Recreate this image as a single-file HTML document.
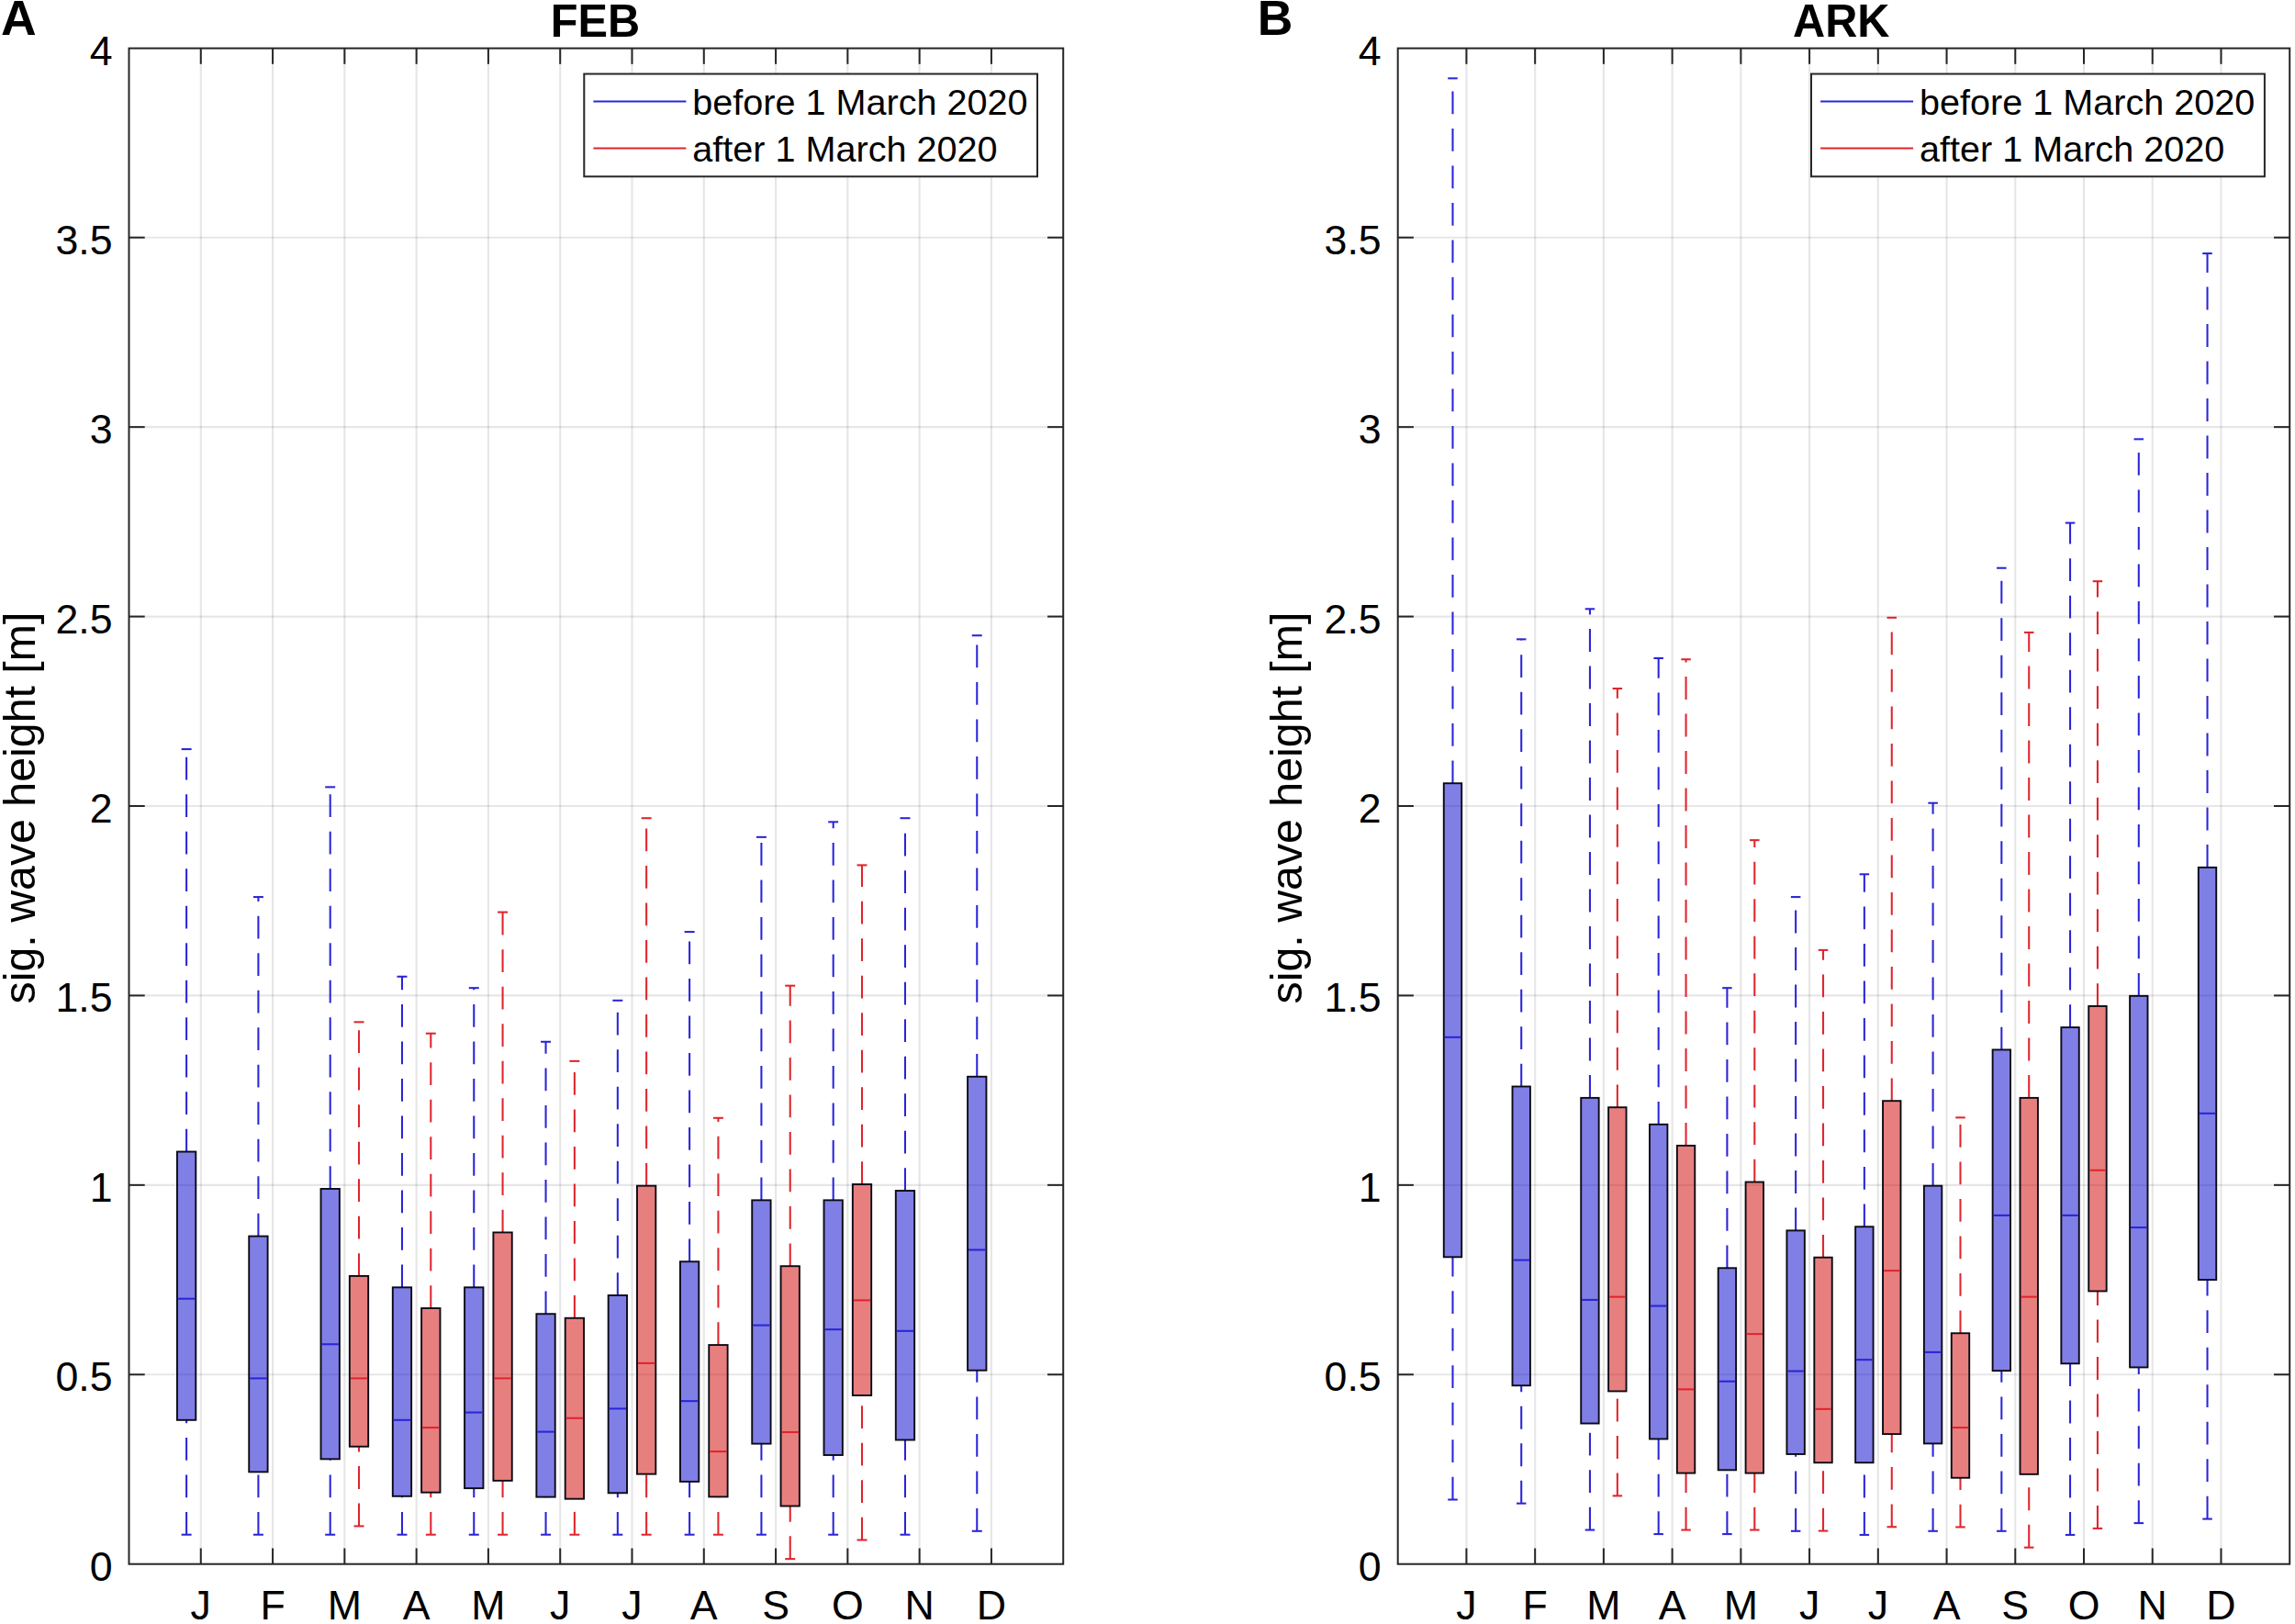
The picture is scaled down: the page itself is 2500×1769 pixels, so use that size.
<!DOCTYPE html>
<html><head><meta charset="utf-8"><title>sig. wave height</title>
<style>
html,body{margin:0;padding:0;background:#fff;}
svg{display:block;}
text{font-family:"Liberation Sans",sans-serif;fill:#000;}
.t{font-size:44.7px;}
.yl{font-size:48.3px;}
.tt{font-size:48.7px;font-weight:bold;}
.pl{font-size:53.5px;font-weight:bold;}
.lg{font-size:39.6px;}
</style></head><body>
<svg width="2500" height="1769" viewBox="0 0 2500 1769">
<rect x="0" y="0" width="2500" height="1769" fill="#fff"/>
<g>
<line x1="218.78" y1="52.6" x2="218.78" y2="1703.7" stroke="rgba(38,38,38,0.115)" stroke-width="2.1"/>
<line x1="297.07" y1="52.6" x2="297.07" y2="1703.7" stroke="rgba(38,38,38,0.115)" stroke-width="2.1"/>
<line x1="375.35" y1="52.6" x2="375.35" y2="1703.7" stroke="rgba(38,38,38,0.115)" stroke-width="2.1"/>
<line x1="453.64" y1="52.6" x2="453.64" y2="1703.7" stroke="rgba(38,38,38,0.115)" stroke-width="2.1"/>
<line x1="531.92" y1="52.6" x2="531.92" y2="1703.7" stroke="rgba(38,38,38,0.115)" stroke-width="2.1"/>
<line x1="610.21" y1="52.6" x2="610.21" y2="1703.7" stroke="rgba(38,38,38,0.115)" stroke-width="2.1"/>
<line x1="688.49" y1="52.6" x2="688.49" y2="1703.7" stroke="rgba(38,38,38,0.115)" stroke-width="2.1"/>
<line x1="766.78" y1="52.6" x2="766.78" y2="1703.7" stroke="rgba(38,38,38,0.115)" stroke-width="2.1"/>
<line x1="845.06" y1="52.6" x2="845.06" y2="1703.7" stroke="rgba(38,38,38,0.115)" stroke-width="2.1"/>
<line x1="923.35" y1="52.6" x2="923.35" y2="1703.7" stroke="rgba(38,38,38,0.115)" stroke-width="2.1"/>
<line x1="1001.63" y1="52.6" x2="1001.63" y2="1703.7" stroke="rgba(38,38,38,0.115)" stroke-width="2.1"/>
<line x1="1079.92" y1="52.6" x2="1079.92" y2="1703.7" stroke="rgba(38,38,38,0.115)" stroke-width="2.1"/>
<line x1="140.5" y1="1497.28" x2="1158.2" y2="1497.28" stroke="rgba(38,38,38,0.115)" stroke-width="2.1"/>
<line x1="140.5" y1="1290.85" x2="1158.2" y2="1290.85" stroke="rgba(38,38,38,0.115)" stroke-width="2.1"/>
<line x1="140.5" y1="1084.42" x2="1158.2" y2="1084.42" stroke="rgba(38,38,38,0.115)" stroke-width="2.1"/>
<line x1="140.5" y1="878" x2="1158.2" y2="878" stroke="rgba(38,38,38,0.115)" stroke-width="2.1"/>
<line x1="140.5" y1="671.58" x2="1158.2" y2="671.58" stroke="rgba(38,38,38,0.115)" stroke-width="2.1"/>
<line x1="140.5" y1="465.15" x2="1158.2" y2="465.15" stroke="rgba(38,38,38,0.115)" stroke-width="2.1"/>
<line x1="140.5" y1="258.72" x2="1158.2" y2="258.72" stroke="rgba(38,38,38,0.115)" stroke-width="2.1"/>
<line x1="203.13" y1="1254.52" x2="203.13" y2="816.07" stroke="#2a24d8" stroke-width="2.05" stroke-dasharray="24.8 15.7"/>
<line x1="203.13" y1="1671.7" x2="203.13" y2="1546.82" stroke="#2a24d8" stroke-width="2.05" stroke-dasharray="24.8 15.7"/>
<line x1="197.64" y1="816.07" x2="208.62" y2="816.07" stroke="#2a24d8" stroke-width="2.05"/>
<line x1="197.64" y1="1671.7" x2="208.62" y2="1671.7" stroke="#2a24d8" stroke-width="2.05"/>
<rect x="192.95" y="1254.52" width="20.35" height="292.3" fill="rgba(0,0,205,0.5)" stroke="#0a0a14" stroke-width="1.9"/>
<line x1="193.95" y1="1414.7" x2="212.3" y2="1414.7" stroke="#2a24d8" stroke-width="2.05"/>
<line x1="281.41" y1="1346.58" x2="281.41" y2="977.08" stroke="#2a24d8" stroke-width="2.05" stroke-dasharray="24.8 15.7"/>
<line x1="281.41" y1="1671.7" x2="281.41" y2="1603.38" stroke="#2a24d8" stroke-width="2.05" stroke-dasharray="24.8 15.7"/>
<line x1="275.92" y1="977.08" x2="286.9" y2="977.08" stroke="#2a24d8" stroke-width="2.05"/>
<line x1="275.92" y1="1671.7" x2="286.9" y2="1671.7" stroke="#2a24d8" stroke-width="2.05"/>
<rect x="271.24" y="1346.58" width="20.35" height="256.79" fill="rgba(0,0,205,0.5)" stroke="#0a0a14" stroke-width="1.9"/>
<line x1="272.24" y1="1501.4" x2="290.59" y2="1501.4" stroke="#2a24d8" stroke-width="2.05"/>
<line x1="359.7" y1="1294.98" x2="359.7" y2="857.36" stroke="#2a24d8" stroke-width="2.05" stroke-dasharray="24.8 15.7"/>
<line x1="359.7" y1="1671.7" x2="359.7" y2="1589.34" stroke="#2a24d8" stroke-width="2.05" stroke-dasharray="24.8 15.7"/>
<line x1="354.21" y1="857.36" x2="365.19" y2="857.36" stroke="#2a24d8" stroke-width="2.05"/>
<line x1="354.21" y1="1671.7" x2="365.19" y2="1671.7" stroke="#2a24d8" stroke-width="2.05"/>
<rect x="349.52" y="1294.98" width="20.35" height="294.36" fill="rgba(0,0,205,0.5)" stroke="#0a0a14" stroke-width="1.9"/>
<line x1="350.52" y1="1464.25" x2="368.87" y2="1464.25" stroke="#2a24d8" stroke-width="2.05"/>
<line x1="437.98" y1="1402.32" x2="437.98" y2="1063.78" stroke="#2a24d8" stroke-width="2.05" stroke-dasharray="24.8 15.7"/>
<line x1="437.98" y1="1671.7" x2="437.98" y2="1629.8" stroke="#2a24d8" stroke-width="2.05" stroke-dasharray="24.8 15.7"/>
<line x1="432.49" y1="1063.78" x2="443.47" y2="1063.78" stroke="#2a24d8" stroke-width="2.05"/>
<line x1="432.49" y1="1671.7" x2="443.47" y2="1671.7" stroke="#2a24d8" stroke-width="2.05"/>
<rect x="427.8" y="1402.32" width="20.35" height="227.48" fill="rgba(0,0,205,0.5)" stroke="#0a0a14" stroke-width="1.9"/>
<line x1="428.8" y1="1546.82" x2="447.16" y2="1546.82" stroke="#2a24d8" stroke-width="2.05"/>
<line x1="516.27" y1="1402.32" x2="516.27" y2="1076.17" stroke="#2a24d8" stroke-width="2.05" stroke-dasharray="24.8 15.7"/>
<line x1="516.27" y1="1671.7" x2="516.27" y2="1621.13" stroke="#2a24d8" stroke-width="2.05" stroke-dasharray="24.8 15.7"/>
<line x1="510.78" y1="1076.17" x2="521.75" y2="1076.17" stroke="#2a24d8" stroke-width="2.05"/>
<line x1="510.78" y1="1671.7" x2="521.75" y2="1671.7" stroke="#2a24d8" stroke-width="2.05"/>
<rect x="506.09" y="1402.32" width="20.35" height="218.81" fill="rgba(0,0,205,0.5)" stroke="#0a0a14" stroke-width="1.9"/>
<line x1="507.09" y1="1538.56" x2="525.44" y2="1538.56" stroke="#2a24d8" stroke-width="2.05"/>
<line x1="594.55" y1="1431.22" x2="594.55" y2="1134.79" stroke="#2a24d8" stroke-width="2.05" stroke-dasharray="24.8 15.7"/>
<line x1="594.55" y1="1671.7" x2="594.55" y2="1630.63" stroke="#2a24d8" stroke-width="2.05" stroke-dasharray="24.8 15.7"/>
<line x1="589.06" y1="1134.79" x2="600.04" y2="1134.79" stroke="#2a24d8" stroke-width="2.05"/>
<line x1="589.06" y1="1671.7" x2="600.04" y2="1671.7" stroke="#2a24d8" stroke-width="2.05"/>
<rect x="584.37" y="1431.22" width="20.35" height="199.41" fill="rgba(0,0,205,0.5)" stroke="#0a0a14" stroke-width="1.9"/>
<line x1="585.37" y1="1559.62" x2="603.73" y2="1559.62" stroke="#2a24d8" stroke-width="2.05"/>
<line x1="672.84" y1="1410.99" x2="672.84" y2="1089.79" stroke="#2a24d8" stroke-width="2.05" stroke-dasharray="24.8 15.7"/>
<line x1="672.84" y1="1671.7" x2="672.84" y2="1626.29" stroke="#2a24d8" stroke-width="2.05" stroke-dasharray="24.8 15.7"/>
<line x1="667.35" y1="1089.79" x2="678.32" y2="1089.79" stroke="#2a24d8" stroke-width="2.05"/>
<line x1="667.35" y1="1671.7" x2="678.32" y2="1671.7" stroke="#2a24d8" stroke-width="2.05"/>
<rect x="662.66" y="1410.99" width="20.35" height="215.3" fill="rgba(0,0,205,0.5)" stroke="#0a0a14" stroke-width="1.9"/>
<line x1="663.66" y1="1534.43" x2="682.01" y2="1534.43" stroke="#2a24d8" stroke-width="2.05"/>
<line x1="751.12" y1="1374.25" x2="751.12" y2="1015.07" stroke="#2a24d8" stroke-width="2.05" stroke-dasharray="24.8 15.7"/>
<line x1="751.12" y1="1671.7" x2="751.12" y2="1613.91" stroke="#2a24d8" stroke-width="2.05" stroke-dasharray="24.8 15.7"/>
<line x1="745.63" y1="1015.07" x2="756.61" y2="1015.07" stroke="#2a24d8" stroke-width="2.05"/>
<line x1="745.63" y1="1671.7" x2="756.61" y2="1671.7" stroke="#2a24d8" stroke-width="2.05"/>
<rect x="740.94" y="1374.25" width="20.35" height="239.66" fill="rgba(0,0,205,0.5)" stroke="#0a0a14" stroke-width="1.9"/>
<line x1="741.94" y1="1526.17" x2="760.3" y2="1526.17" stroke="#2a24d8" stroke-width="2.05"/>
<line x1="829.4" y1="1307.36" x2="829.4" y2="911.85" stroke="#2a24d8" stroke-width="2.05" stroke-dasharray="24.8 15.7"/>
<line x1="829.4" y1="1671.7" x2="829.4" y2="1572.62" stroke="#2a24d8" stroke-width="2.05" stroke-dasharray="24.8 15.7"/>
<line x1="823.92" y1="911.85" x2="834.89" y2="911.85" stroke="#2a24d8" stroke-width="2.05"/>
<line x1="823.92" y1="1671.7" x2="834.89" y2="1671.7" stroke="#2a24d8" stroke-width="2.05"/>
<rect x="819.23" y="1307.36" width="20.35" height="265.26" fill="rgba(0,0,205,0.5)" stroke="#0a0a14" stroke-width="1.9"/>
<line x1="820.23" y1="1443.6" x2="838.58" y2="1443.6" stroke="#2a24d8" stroke-width="2.05"/>
<line x1="907.69" y1="1307.36" x2="907.69" y2="895.34" stroke="#2a24d8" stroke-width="2.05" stroke-dasharray="24.8 15.7"/>
<line x1="907.69" y1="1671.7" x2="907.69" y2="1585.01" stroke="#2a24d8" stroke-width="2.05" stroke-dasharray="24.8 15.7"/>
<line x1="902.2" y1="895.34" x2="913.18" y2="895.34" stroke="#2a24d8" stroke-width="2.05"/>
<line x1="902.2" y1="1671.7" x2="913.18" y2="1671.7" stroke="#2a24d8" stroke-width="2.05"/>
<rect x="897.51" y="1307.36" width="20.35" height="277.64" fill="rgba(0,0,205,0.5)" stroke="#0a0a14" stroke-width="1.9"/>
<line x1="898.51" y1="1448.15" x2="916.87" y2="1448.15" stroke="#2a24d8" stroke-width="2.05"/>
<line x1="985.97" y1="1297.04" x2="985.97" y2="891.21" stroke="#2a24d8" stroke-width="2.05" stroke-dasharray="24.8 15.7"/>
<line x1="985.97" y1="1671.7" x2="985.97" y2="1568.49" stroke="#2a24d8" stroke-width="2.05" stroke-dasharray="24.8 15.7"/>
<line x1="980.49" y1="891.21" x2="991.46" y2="891.21" stroke="#2a24d8" stroke-width="2.05"/>
<line x1="980.49" y1="1671.7" x2="991.46" y2="1671.7" stroke="#2a24d8" stroke-width="2.05"/>
<rect x="975.8" y="1297.04" width="20.35" height="271.45" fill="rgba(0,0,205,0.5)" stroke="#0a0a14" stroke-width="1.9"/>
<line x1="976.8" y1="1449.8" x2="995.15" y2="1449.8" stroke="#2a24d8" stroke-width="2.05"/>
<line x1="1064.26" y1="1172.77" x2="1064.26" y2="692.22" stroke="#2a24d8" stroke-width="2.05" stroke-dasharray="24.8 15.7"/>
<line x1="1064.26" y1="1667.78" x2="1064.26" y2="1492.73" stroke="#2a24d8" stroke-width="2.05" stroke-dasharray="24.8 15.7"/>
<line x1="1058.77" y1="692.22" x2="1069.75" y2="692.22" stroke="#2a24d8" stroke-width="2.05"/>
<line x1="1058.77" y1="1667.78" x2="1069.75" y2="1667.78" stroke="#2a24d8" stroke-width="2.05"/>
<rect x="1054.08" y="1172.77" width="20.35" height="319.96" fill="rgba(0,0,205,0.5)" stroke="#0a0a14" stroke-width="1.9"/>
<line x1="1055.08" y1="1361.45" x2="1073.44" y2="1361.45" stroke="#2a24d8" stroke-width="2.05"/>
<line x1="391.01" y1="1389.93" x2="391.01" y2="1113.32" stroke="#e0242c" stroke-width="2.05" stroke-dasharray="24.8 15.7"/>
<line x1="391.01" y1="1662.41" x2="391.01" y2="1575.72" stroke="#e0242c" stroke-width="2.05" stroke-dasharray="24.8 15.7"/>
<line x1="385.52" y1="1113.32" x2="396.5" y2="1113.32" stroke="#e0242c" stroke-width="2.05"/>
<line x1="385.52" y1="1662.41" x2="396.5" y2="1662.41" stroke="#e0242c" stroke-width="2.05"/>
<rect x="380.83" y="1389.93" width="20.35" height="185.78" fill="rgba(210,0,0,0.5)" stroke="#0a0a14" stroke-width="1.9"/>
<line x1="381.83" y1="1501.4" x2="400.19" y2="1501.4" stroke="#e0242c" stroke-width="2.05"/>
<line x1="469.3" y1="1425.03" x2="469.3" y2="1125.71" stroke="#e0242c" stroke-width="2.05" stroke-dasharray="24.8 15.7"/>
<line x1="469.3" y1="1671.7" x2="469.3" y2="1625.67" stroke="#e0242c" stroke-width="2.05" stroke-dasharray="24.8 15.7"/>
<line x1="463.81" y1="1125.71" x2="474.78" y2="1125.71" stroke="#e0242c" stroke-width="2.05"/>
<line x1="463.81" y1="1671.7" x2="474.78" y2="1671.7" stroke="#e0242c" stroke-width="2.05"/>
<rect x="459.12" y="1425.03" width="20.35" height="200.65" fill="rgba(210,0,0,0.5)" stroke="#0a0a14" stroke-width="1.9"/>
<line x1="460.12" y1="1555.07" x2="478.47" y2="1555.07" stroke="#e0242c" stroke-width="2.05"/>
<line x1="547.58" y1="1342.46" x2="547.58" y2="993.6" stroke="#e0242c" stroke-width="2.05" stroke-dasharray="24.8 15.7"/>
<line x1="547.58" y1="1671.7" x2="547.58" y2="1612.87" stroke="#e0242c" stroke-width="2.05" stroke-dasharray="24.8 15.7"/>
<line x1="542.09" y1="993.6" x2="553.07" y2="993.6" stroke="#e0242c" stroke-width="2.05"/>
<line x1="542.09" y1="1671.7" x2="553.07" y2="1671.7" stroke="#e0242c" stroke-width="2.05"/>
<rect x="537.4" y="1342.46" width="20.35" height="270.42" fill="rgba(210,0,0,0.5)" stroke="#0a0a14" stroke-width="1.9"/>
<line x1="538.4" y1="1501.4" x2="556.76" y2="1501.4" stroke="#e0242c" stroke-width="2.05"/>
<line x1="625.86" y1="1435.76" x2="625.86" y2="1155.85" stroke="#e0242c" stroke-width="2.05" stroke-dasharray="24.8 15.7"/>
<line x1="625.86" y1="1671.7" x2="625.86" y2="1632.69" stroke="#e0242c" stroke-width="2.05" stroke-dasharray="24.8 15.7"/>
<line x1="620.38" y1="1155.85" x2="631.35" y2="1155.85" stroke="#e0242c" stroke-width="2.05"/>
<line x1="620.38" y1="1671.7" x2="631.35" y2="1671.7" stroke="#e0242c" stroke-width="2.05"/>
<rect x="615.69" y="1435.76" width="20.35" height="196.93" fill="rgba(210,0,0,0.5)" stroke="#0a0a14" stroke-width="1.9"/>
<line x1="616.69" y1="1544.75" x2="635.04" y2="1544.75" stroke="#e0242c" stroke-width="2.05"/>
<line x1="704.15" y1="1291.68" x2="704.15" y2="891.21" stroke="#e0242c" stroke-width="2.05" stroke-dasharray="24.8 15.7"/>
<line x1="704.15" y1="1671.7" x2="704.15" y2="1605.65" stroke="#e0242c" stroke-width="2.05" stroke-dasharray="24.8 15.7"/>
<line x1="698.66" y1="891.21" x2="709.64" y2="891.21" stroke="#e0242c" stroke-width="2.05"/>
<line x1="698.66" y1="1671.7" x2="709.64" y2="1671.7" stroke="#e0242c" stroke-width="2.05"/>
<rect x="693.97" y="1291.68" width="20.35" height="313.97" fill="rgba(210,0,0,0.5)" stroke="#0a0a14" stroke-width="1.9"/>
<line x1="694.97" y1="1484.89" x2="713.33" y2="1484.89" stroke="#e0242c" stroke-width="2.05"/>
<line x1="782.43" y1="1465.07" x2="782.43" y2="1217.78" stroke="#e0242c" stroke-width="2.05" stroke-dasharray="24.8 15.7"/>
<line x1="782.43" y1="1671.7" x2="782.43" y2="1630.42" stroke="#e0242c" stroke-width="2.05" stroke-dasharray="24.8 15.7"/>
<line x1="776.95" y1="1217.78" x2="787.92" y2="1217.78" stroke="#e0242c" stroke-width="2.05"/>
<line x1="776.95" y1="1671.7" x2="787.92" y2="1671.7" stroke="#e0242c" stroke-width="2.05"/>
<rect x="772.26" y="1465.07" width="20.35" height="165.35" fill="rgba(210,0,0,0.5)" stroke="#0a0a14" stroke-width="1.9"/>
<line x1="773.26" y1="1581.08" x2="791.61" y2="1581.08" stroke="#e0242c" stroke-width="2.05"/>
<line x1="860.72" y1="1379.2" x2="860.72" y2="1073.69" stroke="#e0242c" stroke-width="2.05" stroke-dasharray="24.8 15.7"/>
<line x1="860.72" y1="1698.13" x2="860.72" y2="1640.53" stroke="#e0242c" stroke-width="2.05" stroke-dasharray="24.8 15.7"/>
<line x1="855.23" y1="1073.69" x2="866.21" y2="1073.69" stroke="#e0242c" stroke-width="2.05"/>
<line x1="855.23" y1="1698.13" x2="866.21" y2="1698.13" stroke="#e0242c" stroke-width="2.05"/>
<rect x="850.54" y="1379.2" width="20.35" height="261.33" fill="rgba(210,0,0,0.5)" stroke="#0a0a14" stroke-width="1.9"/>
<line x1="851.54" y1="1560.03" x2="869.9" y2="1560.03" stroke="#e0242c" stroke-width="2.05"/>
<line x1="939" y1="1290.02" x2="939" y2="942.4" stroke="#e0242c" stroke-width="2.05" stroke-dasharray="24.8 15.7"/>
<line x1="939" y1="1677.48" x2="939" y2="1519.98" stroke="#e0242c" stroke-width="2.05" stroke-dasharray="24.8 15.7"/>
<line x1="933.51" y1="942.4" x2="944.49" y2="942.4" stroke="#e0242c" stroke-width="2.05"/>
<line x1="933.51" y1="1677.48" x2="944.49" y2="1677.48" stroke="#e0242c" stroke-width="2.05"/>
<rect x="928.83" y="1290.02" width="20.35" height="229.96" fill="rgba(210,0,0,0.5)" stroke="#0a0a14" stroke-width="1.9"/>
<line x1="929.83" y1="1416.36" x2="948.18" y2="1416.36" stroke="#e0242c" stroke-width="2.05"/>
<rect x="140.5" y="52.6" width="1017.7" height="1651.1" fill="none" stroke="#262626" stroke-width="2"/>
<line x1="218.78" y1="1703.7" x2="218.78" y2="1686.5" stroke="#262626" stroke-width="2"/>
<line x1="218.78" y1="52.6" x2="218.78" y2="69.8" stroke="#262626" stroke-width="2"/>
<text class="t" x="218.78" y="1764.4" text-anchor="middle">J</text>
<line x1="297.07" y1="1703.7" x2="297.07" y2="1686.5" stroke="#262626" stroke-width="2"/>
<line x1="297.07" y1="52.6" x2="297.07" y2="69.8" stroke="#262626" stroke-width="2"/>
<text class="t" x="297.07" y="1764.4" text-anchor="middle">F</text>
<line x1="375.35" y1="1703.7" x2="375.35" y2="1686.5" stroke="#262626" stroke-width="2"/>
<line x1="375.35" y1="52.6" x2="375.35" y2="69.8" stroke="#262626" stroke-width="2"/>
<text class="t" x="375.35" y="1764.4" text-anchor="middle">M</text>
<line x1="453.64" y1="1703.7" x2="453.64" y2="1686.5" stroke="#262626" stroke-width="2"/>
<line x1="453.64" y1="52.6" x2="453.64" y2="69.8" stroke="#262626" stroke-width="2"/>
<text class="t" x="453.64" y="1764.4" text-anchor="middle">A</text>
<line x1="531.92" y1="1703.7" x2="531.92" y2="1686.5" stroke="#262626" stroke-width="2"/>
<line x1="531.92" y1="52.6" x2="531.92" y2="69.8" stroke="#262626" stroke-width="2"/>
<text class="t" x="531.92" y="1764.4" text-anchor="middle">M</text>
<line x1="610.21" y1="1703.7" x2="610.21" y2="1686.5" stroke="#262626" stroke-width="2"/>
<line x1="610.21" y1="52.6" x2="610.21" y2="69.8" stroke="#262626" stroke-width="2"/>
<text class="t" x="610.21" y="1764.4" text-anchor="middle">J</text>
<line x1="688.49" y1="1703.7" x2="688.49" y2="1686.5" stroke="#262626" stroke-width="2"/>
<line x1="688.49" y1="52.6" x2="688.49" y2="69.8" stroke="#262626" stroke-width="2"/>
<text class="t" x="688.49" y="1764.4" text-anchor="middle">J</text>
<line x1="766.78" y1="1703.7" x2="766.78" y2="1686.5" stroke="#262626" stroke-width="2"/>
<line x1="766.78" y1="52.6" x2="766.78" y2="69.8" stroke="#262626" stroke-width="2"/>
<text class="t" x="766.78" y="1764.4" text-anchor="middle">A</text>
<line x1="845.06" y1="1703.7" x2="845.06" y2="1686.5" stroke="#262626" stroke-width="2"/>
<line x1="845.06" y1="52.6" x2="845.06" y2="69.8" stroke="#262626" stroke-width="2"/>
<text class="t" x="845.06" y="1764.4" text-anchor="middle">S</text>
<line x1="923.35" y1="1703.7" x2="923.35" y2="1686.5" stroke="#262626" stroke-width="2"/>
<line x1="923.35" y1="52.6" x2="923.35" y2="69.8" stroke="#262626" stroke-width="2"/>
<text class="t" x="923.35" y="1764.4" text-anchor="middle">O</text>
<line x1="1001.63" y1="1703.7" x2="1001.63" y2="1686.5" stroke="#262626" stroke-width="2"/>
<line x1="1001.63" y1="52.6" x2="1001.63" y2="69.8" stroke="#262626" stroke-width="2"/>
<text class="t" x="1001.63" y="1764.4" text-anchor="middle">N</text>
<line x1="1079.92" y1="1703.7" x2="1079.92" y2="1686.5" stroke="#262626" stroke-width="2"/>
<line x1="1079.92" y1="52.6" x2="1079.92" y2="69.8" stroke="#262626" stroke-width="2"/>
<text class="t" x="1079.92" y="1764.4" text-anchor="middle">D</text>
<text class="t" x="122.5" y="1721.7" text-anchor="end">0</text>
<line x1="140.5" y1="1497.28" x2="157.7" y2="1497.28" stroke="#262626" stroke-width="2"/>
<line x1="1158.2" y1="1497.28" x2="1141" y2="1497.28" stroke="#262626" stroke-width="2"/>
<text class="t" x="122.5" y="1515.28" text-anchor="end">0.5</text>
<line x1="140.5" y1="1290.85" x2="157.7" y2="1290.85" stroke="#262626" stroke-width="2"/>
<line x1="1158.2" y1="1290.85" x2="1141" y2="1290.85" stroke="#262626" stroke-width="2"/>
<text class="t" x="122.5" y="1308.85" text-anchor="end">1</text>
<line x1="140.5" y1="1084.42" x2="157.7" y2="1084.42" stroke="#262626" stroke-width="2"/>
<line x1="1158.2" y1="1084.42" x2="1141" y2="1084.42" stroke="#262626" stroke-width="2"/>
<text class="t" x="122.5" y="1102.42" text-anchor="end">1.5</text>
<line x1="140.5" y1="878" x2="157.7" y2="878" stroke="#262626" stroke-width="2"/>
<line x1="1158.2" y1="878" x2="1141" y2="878" stroke="#262626" stroke-width="2"/>
<text class="t" x="122.5" y="896" text-anchor="end">2</text>
<line x1="140.5" y1="671.58" x2="157.7" y2="671.58" stroke="#262626" stroke-width="2"/>
<line x1="1158.2" y1="671.58" x2="1141" y2="671.58" stroke="#262626" stroke-width="2"/>
<text class="t" x="122.5" y="689.58" text-anchor="end">2.5</text>
<line x1="140.5" y1="465.15" x2="157.7" y2="465.15" stroke="#262626" stroke-width="2"/>
<line x1="1158.2" y1="465.15" x2="1141" y2="465.15" stroke="#262626" stroke-width="2"/>
<text class="t" x="122.5" y="483.15" text-anchor="end">3</text>
<line x1="140.5" y1="258.72" x2="157.7" y2="258.72" stroke="#262626" stroke-width="2"/>
<line x1="1158.2" y1="258.72" x2="1141" y2="258.72" stroke="#262626" stroke-width="2"/>
<text class="t" x="122.5" y="276.72" text-anchor="end">3.5</text>
<text class="t" x="122.5" y="70.6" text-anchor="end">4</text>
<text class="tt" transform="translate(648.35,40.2) scale(1,1.04)" text-anchor="middle">FEB</text>
<text class="pl" x="0.9" y="37.5">A</text>
<text class="yl" transform="translate(38.3,880) rotate(-90)" text-anchor="middle">sig. wave height [m]</text>
<rect x="636.3" y="80.5" width="493.7" height="111.8" fill="#fff" stroke="#262626" stroke-width="2"/>
<line x1="646.4" y1="110.5" x2="747.4" y2="110.5" stroke="#2a24d8" stroke-width="2.05"/>
<line x1="646.4" y1="161.5" x2="747.4" y2="161.5" stroke="#e0242c" stroke-width="2.05"/>
<text class="lg" x="754.3" y="125.4">before 1 March 2020</text>
<text class="lg" x="754.3" y="176.2">after 1 March 2020</text>
</g>
<g>
<line x1="1597.43" y1="52.6" x2="1597.43" y2="1703.7" stroke="rgba(38,38,38,0.115)" stroke-width="2.1"/>
<line x1="1672.16" y1="52.6" x2="1672.16" y2="1703.7" stroke="rgba(38,38,38,0.115)" stroke-width="2.1"/>
<line x1="1746.89" y1="52.6" x2="1746.89" y2="1703.7" stroke="rgba(38,38,38,0.115)" stroke-width="2.1"/>
<line x1="1821.62" y1="52.6" x2="1821.62" y2="1703.7" stroke="rgba(38,38,38,0.115)" stroke-width="2.1"/>
<line x1="1896.35" y1="52.6" x2="1896.35" y2="1703.7" stroke="rgba(38,38,38,0.115)" stroke-width="2.1"/>
<line x1="1971.08" y1="52.6" x2="1971.08" y2="1703.7" stroke="rgba(38,38,38,0.115)" stroke-width="2.1"/>
<line x1="2045.82" y1="52.6" x2="2045.82" y2="1703.7" stroke="rgba(38,38,38,0.115)" stroke-width="2.1"/>
<line x1="2120.55" y1="52.6" x2="2120.55" y2="1703.7" stroke="rgba(38,38,38,0.115)" stroke-width="2.1"/>
<line x1="2195.28" y1="52.6" x2="2195.28" y2="1703.7" stroke="rgba(38,38,38,0.115)" stroke-width="2.1"/>
<line x1="2270.01" y1="52.6" x2="2270.01" y2="1703.7" stroke="rgba(38,38,38,0.115)" stroke-width="2.1"/>
<line x1="2344.74" y1="52.6" x2="2344.74" y2="1703.7" stroke="rgba(38,38,38,0.115)" stroke-width="2.1"/>
<line x1="2419.47" y1="52.6" x2="2419.47" y2="1703.7" stroke="rgba(38,38,38,0.115)" stroke-width="2.1"/>
<line x1="1522.7" y1="1497.28" x2="2494.2" y2="1497.28" stroke="rgba(38,38,38,0.115)" stroke-width="2.1"/>
<line x1="1522.7" y1="1290.85" x2="2494.2" y2="1290.85" stroke="rgba(38,38,38,0.115)" stroke-width="2.1"/>
<line x1="1522.7" y1="1084.42" x2="2494.2" y2="1084.42" stroke="rgba(38,38,38,0.115)" stroke-width="2.1"/>
<line x1="1522.7" y1="878" x2="2494.2" y2="878" stroke="rgba(38,38,38,0.115)" stroke-width="2.1"/>
<line x1="1522.7" y1="671.58" x2="2494.2" y2="671.58" stroke="rgba(38,38,38,0.115)" stroke-width="2.1"/>
<line x1="1522.7" y1="465.15" x2="2494.2" y2="465.15" stroke="rgba(38,38,38,0.115)" stroke-width="2.1"/>
<line x1="1522.7" y1="258.72" x2="2494.2" y2="258.72" stroke="rgba(38,38,38,0.115)" stroke-width="2.1"/>
<line x1="1582.48" y1="853.23" x2="1582.48" y2="85.33" stroke="#2a24d8" stroke-width="2.05" stroke-dasharray="24.8 15.7"/>
<line x1="1582.48" y1="1633.52" x2="1582.48" y2="1369.29" stroke="#2a24d8" stroke-width="2.05" stroke-dasharray="24.8 15.7"/>
<line x1="1577.23" y1="85.33" x2="1587.74" y2="85.33" stroke="#2a24d8" stroke-width="2.05"/>
<line x1="1577.23" y1="1633.52" x2="1587.74" y2="1633.52" stroke="#2a24d8" stroke-width="2.05"/>
<rect x="1572.77" y="853.23" width="19.43" height="516.06" fill="rgba(0,0,205,0.5)" stroke="#0a0a14" stroke-width="1.9"/>
<line x1="1573.77" y1="1129.84" x2="1591.2" y2="1129.84" stroke="#2a24d8" stroke-width="2.05"/>
<line x1="1657.22" y1="1183.51" x2="1657.22" y2="696.35" stroke="#2a24d8" stroke-width="2.05" stroke-dasharray="24.8 15.7"/>
<line x1="1657.22" y1="1637.64" x2="1657.22" y2="1509.25" stroke="#2a24d8" stroke-width="2.05" stroke-dasharray="24.8 15.7"/>
<line x1="1651.96" y1="696.35" x2="1662.47" y2="696.35" stroke="#2a24d8" stroke-width="2.05"/>
<line x1="1651.96" y1="1637.64" x2="1662.47" y2="1637.64" stroke="#2a24d8" stroke-width="2.05"/>
<rect x="1647.5" y="1183.51" width="19.43" height="325.74" fill="rgba(0,0,205,0.5)" stroke="#0a0a14" stroke-width="1.9"/>
<line x1="1648.5" y1="1372.59" x2="1665.93" y2="1372.59" stroke="#2a24d8" stroke-width="2.05"/>
<line x1="1731.95" y1="1195.89" x2="1731.95" y2="663.32" stroke="#2a24d8" stroke-width="2.05" stroke-dasharray="24.8 15.7"/>
<line x1="1731.95" y1="1666.54" x2="1731.95" y2="1550.53" stroke="#2a24d8" stroke-width="2.05" stroke-dasharray="24.8 15.7"/>
<line x1="1726.69" y1="663.32" x2="1737.2" y2="663.32" stroke="#2a24d8" stroke-width="2.05"/>
<line x1="1726.69" y1="1666.54" x2="1737.2" y2="1666.54" stroke="#2a24d8" stroke-width="2.05"/>
<rect x="1722.23" y="1195.89" width="19.43" height="354.64" fill="rgba(0,0,205,0.5)" stroke="#0a0a14" stroke-width="1.9"/>
<line x1="1723.23" y1="1415.94" x2="1740.66" y2="1415.94" stroke="#2a24d8" stroke-width="2.05"/>
<line x1="1806.68" y1="1224.79" x2="1806.68" y2="716.99" stroke="#2a24d8" stroke-width="2.05" stroke-dasharray="24.8 15.7"/>
<line x1="1806.68" y1="1671.08" x2="1806.68" y2="1567.46" stroke="#2a24d8" stroke-width="2.05" stroke-dasharray="24.8 15.7"/>
<line x1="1801.42" y1="716.99" x2="1811.93" y2="716.99" stroke="#2a24d8" stroke-width="2.05"/>
<line x1="1801.42" y1="1671.08" x2="1811.93" y2="1671.08" stroke="#2a24d8" stroke-width="2.05"/>
<rect x="1796.96" y="1224.79" width="19.43" height="342.67" fill="rgba(0,0,205,0.5)" stroke="#0a0a14" stroke-width="1.9"/>
<line x1="1797.96" y1="1422.55" x2="1815.39" y2="1422.55" stroke="#2a24d8" stroke-width="2.05"/>
<line x1="1881.41" y1="1381.26" x2="1881.41" y2="1076.17" stroke="#2a24d8" stroke-width="2.05" stroke-dasharray="24.8 15.7"/>
<line x1="1881.41" y1="1671.08" x2="1881.41" y2="1601.31" stroke="#2a24d8" stroke-width="2.05" stroke-dasharray="24.8 15.7"/>
<line x1="1876.15" y1="1076.17" x2="1886.67" y2="1076.17" stroke="#2a24d8" stroke-width="2.05"/>
<line x1="1876.15" y1="1671.08" x2="1886.67" y2="1671.08" stroke="#2a24d8" stroke-width="2.05"/>
<rect x="1871.69" y="1381.26" width="19.43" height="220.05" fill="rgba(0,0,205,0.5)" stroke="#0a0a14" stroke-width="1.9"/>
<line x1="1872.69" y1="1504.71" x2="1890.12" y2="1504.71" stroke="#2a24d8" stroke-width="2.05"/>
<line x1="1956.14" y1="1340.39" x2="1956.14" y2="977.08" stroke="#2a24d8" stroke-width="2.05" stroke-dasharray="24.8 15.7"/>
<line x1="1956.14" y1="1667.78" x2="1956.14" y2="1583.97" stroke="#2a24d8" stroke-width="2.05" stroke-dasharray="24.8 15.7"/>
<line x1="1950.88" y1="977.08" x2="1961.4" y2="977.08" stroke="#2a24d8" stroke-width="2.05"/>
<line x1="1950.88" y1="1667.78" x2="1961.4" y2="1667.78" stroke="#2a24d8" stroke-width="2.05"/>
<rect x="1946.42" y="1340.39" width="19.43" height="243.58" fill="rgba(0,0,205,0.5)" stroke="#0a0a14" stroke-width="1.9"/>
<line x1="1947.42" y1="1493.56" x2="1964.85" y2="1493.56" stroke="#2a24d8" stroke-width="2.05"/>
<line x1="2030.87" y1="1336.26" x2="2030.87" y2="952.31" stroke="#2a24d8" stroke-width="2.05" stroke-dasharray="24.8 15.7"/>
<line x1="2030.87" y1="1671.91" x2="2030.87" y2="1593.26" stroke="#2a24d8" stroke-width="2.05" stroke-dasharray="24.8 15.7"/>
<line x1="2025.61" y1="952.31" x2="2036.13" y2="952.31" stroke="#2a24d8" stroke-width="2.05"/>
<line x1="2025.61" y1="1671.91" x2="2036.13" y2="1671.91" stroke="#2a24d8" stroke-width="2.05"/>
<rect x="2021.15" y="1336.26" width="19.43" height="257" fill="rgba(0,0,205,0.5)" stroke="#0a0a14" stroke-width="1.9"/>
<line x1="2022.15" y1="1481.17" x2="2039.58" y2="1481.17" stroke="#2a24d8" stroke-width="2.05"/>
<line x1="2105.6" y1="1291.68" x2="2105.6" y2="874.7" stroke="#2a24d8" stroke-width="2.05" stroke-dasharray="24.8 15.7"/>
<line x1="2105.6" y1="1667.78" x2="2105.6" y2="1572.41" stroke="#2a24d8" stroke-width="2.05" stroke-dasharray="24.8 15.7"/>
<line x1="2100.34" y1="874.7" x2="2110.86" y2="874.7" stroke="#2a24d8" stroke-width="2.05"/>
<line x1="2100.34" y1="1667.78" x2="2110.86" y2="1667.78" stroke="#2a24d8" stroke-width="2.05"/>
<rect x="2095.88" y="1291.68" width="19.43" height="280.74" fill="rgba(0,0,205,0.5)" stroke="#0a0a14" stroke-width="1.9"/>
<line x1="2096.88" y1="1472.92" x2="2114.32" y2="1472.92" stroke="#2a24d8" stroke-width="2.05"/>
<line x1="2180.33" y1="1143.46" x2="2180.33" y2="618.73" stroke="#2a24d8" stroke-width="2.05" stroke-dasharray="24.8 15.7"/>
<line x1="2180.33" y1="1667.78" x2="2180.33" y2="1493.15" stroke="#2a24d8" stroke-width="2.05" stroke-dasharray="24.8 15.7"/>
<line x1="2175.07" y1="618.73" x2="2185.59" y2="618.73" stroke="#2a24d8" stroke-width="2.05"/>
<line x1="2175.07" y1="1667.78" x2="2185.59" y2="1667.78" stroke="#2a24d8" stroke-width="2.05"/>
<rect x="2170.62" y="1143.46" width="19.43" height="349.68" fill="rgba(0,0,205,0.5)" stroke="#0a0a14" stroke-width="1.9"/>
<line x1="2171.62" y1="1323.88" x2="2189.05" y2="1323.88" stroke="#2a24d8" stroke-width="2.05"/>
<line x1="2255.06" y1="1119.1" x2="2255.06" y2="569.6" stroke="#2a24d8" stroke-width="2.05" stroke-dasharray="24.8 15.7"/>
<line x1="2255.06" y1="1671.91" x2="2255.06" y2="1485.3" stroke="#2a24d8" stroke-width="2.05" stroke-dasharray="24.8 15.7"/>
<line x1="2249.8" y1="569.6" x2="2260.32" y2="569.6" stroke="#2a24d8" stroke-width="2.05"/>
<line x1="2249.8" y1="1671.91" x2="2260.32" y2="1671.91" stroke="#2a24d8" stroke-width="2.05"/>
<rect x="2245.35" y="1119.1" width="19.43" height="366.2" fill="rgba(0,0,205,0.5)" stroke="#0a0a14" stroke-width="1.9"/>
<line x1="2246.35" y1="1323.88" x2="2263.78" y2="1323.88" stroke="#2a24d8" stroke-width="2.05"/>
<line x1="2329.79" y1="1084.84" x2="2329.79" y2="478.36" stroke="#2a24d8" stroke-width="2.05" stroke-dasharray="24.8 15.7"/>
<line x1="2329.79" y1="1659.11" x2="2329.79" y2="1489.43" stroke="#2a24d8" stroke-width="2.05" stroke-dasharray="24.8 15.7"/>
<line x1="2324.53" y1="478.36" x2="2335.05" y2="478.36" stroke="#2a24d8" stroke-width="2.05"/>
<line x1="2324.53" y1="1659.11" x2="2335.05" y2="1659.11" stroke="#2a24d8" stroke-width="2.05"/>
<rect x="2320.08" y="1084.84" width="19.43" height="404.59" fill="rgba(0,0,205,0.5)" stroke="#0a0a14" stroke-width="1.9"/>
<line x1="2321.08" y1="1337.09" x2="2338.51" y2="1337.09" stroke="#2a24d8" stroke-width="2.05"/>
<line x1="2404.52" y1="944.88" x2="2404.52" y2="276.06" stroke="#2a24d8" stroke-width="2.05" stroke-dasharray="24.8 15.7"/>
<line x1="2404.52" y1="1654.57" x2="2404.52" y2="1394.06" stroke="#2a24d8" stroke-width="2.05" stroke-dasharray="24.8 15.7"/>
<line x1="2399.27" y1="276.06" x2="2409.78" y2="276.06" stroke="#2a24d8" stroke-width="2.05"/>
<line x1="2399.27" y1="1654.57" x2="2409.78" y2="1654.57" stroke="#2a24d8" stroke-width="2.05"/>
<rect x="2394.81" y="944.88" width="19.43" height="449.18" fill="rgba(0,0,205,0.5)" stroke="#0a0a14" stroke-width="1.9"/>
<line x1="2395.81" y1="1212.82" x2="2413.24" y2="1212.82" stroke="#2a24d8" stroke-width="2.05"/>
<line x1="1761.84" y1="1206.22" x2="1761.84" y2="750.02" stroke="#e0242c" stroke-width="2.05" stroke-dasharray="24.8 15.7"/>
<line x1="1761.84" y1="1629.39" x2="1761.84" y2="1515.44" stroke="#e0242c" stroke-width="2.05" stroke-dasharray="24.8 15.7"/>
<line x1="1756.58" y1="750.02" x2="1767.1" y2="750.02" stroke="#e0242c" stroke-width="2.05"/>
<line x1="1756.58" y1="1629.39" x2="1767.1" y2="1629.39" stroke="#e0242c" stroke-width="2.05"/>
<rect x="1752.12" y="1206.22" width="19.43" height="309.22" fill="rgba(210,0,0,0.5)" stroke="#0a0a14" stroke-width="1.9"/>
<line x1="1753.12" y1="1412.64" x2="1770.55" y2="1412.64" stroke="#e0242c" stroke-width="2.05"/>
<line x1="1836.57" y1="1247.91" x2="1836.57" y2="718.23" stroke="#e0242c" stroke-width="2.05" stroke-dasharray="24.8 15.7"/>
<line x1="1836.57" y1="1666.54" x2="1836.57" y2="1604.62" stroke="#e0242c" stroke-width="2.05" stroke-dasharray="24.8 15.7"/>
<line x1="1831.31" y1="718.23" x2="1841.83" y2="718.23" stroke="#e0242c" stroke-width="2.05"/>
<line x1="1831.31" y1="1666.54" x2="1841.83" y2="1666.54" stroke="#e0242c" stroke-width="2.05"/>
<rect x="1826.85" y="1247.91" width="19.43" height="356.7" fill="rgba(210,0,0,0.5)" stroke="#0a0a14" stroke-width="1.9"/>
<line x1="1827.85" y1="1513.38" x2="1845.28" y2="1513.38" stroke="#e0242c" stroke-width="2.05"/>
<line x1="1911.3" y1="1287.55" x2="1911.3" y2="915.16" stroke="#e0242c" stroke-width="2.05" stroke-dasharray="24.8 15.7"/>
<line x1="1911.3" y1="1666.54" x2="1911.3" y2="1604.62" stroke="#e0242c" stroke-width="2.05" stroke-dasharray="24.8 15.7"/>
<line x1="1906.04" y1="915.16" x2="1916.56" y2="915.16" stroke="#e0242c" stroke-width="2.05"/>
<line x1="1906.04" y1="1666.54" x2="1916.56" y2="1666.54" stroke="#e0242c" stroke-width="2.05"/>
<rect x="1901.59" y="1287.55" width="19.43" height="317.07" fill="rgba(210,0,0,0.5)" stroke="#0a0a14" stroke-width="1.9"/>
<line x1="1902.59" y1="1453.1" x2="1920.01" y2="1453.1" stroke="#e0242c" stroke-width="2.05"/>
<line x1="1986.03" y1="1369.7" x2="1986.03" y2="1034.88" stroke="#e0242c" stroke-width="2.05" stroke-dasharray="24.8 15.7"/>
<line x1="1986.03" y1="1667.58" x2="1986.03" y2="1593.26" stroke="#e0242c" stroke-width="2.05" stroke-dasharray="24.8 15.7"/>
<line x1="1980.77" y1="1034.88" x2="1991.29" y2="1034.88" stroke="#e0242c" stroke-width="2.05"/>
<line x1="1980.77" y1="1667.58" x2="1991.29" y2="1667.58" stroke="#e0242c" stroke-width="2.05"/>
<rect x="1976.32" y="1369.7" width="19.43" height="223.56" fill="rgba(210,0,0,0.5)" stroke="#0a0a14" stroke-width="1.9"/>
<line x1="1977.32" y1="1534.84" x2="1994.75" y2="1534.84" stroke="#e0242c" stroke-width="2.05"/>
<line x1="2060.76" y1="1199.2" x2="2060.76" y2="672.81" stroke="#e0242c" stroke-width="2.05" stroke-dasharray="24.8 15.7"/>
<line x1="2060.76" y1="1663.24" x2="2060.76" y2="1562.09" stroke="#e0242c" stroke-width="2.05" stroke-dasharray="24.8 15.7"/>
<line x1="2055.5" y1="672.81" x2="2066.02" y2="672.81" stroke="#e0242c" stroke-width="2.05"/>
<line x1="2055.5" y1="1663.24" x2="2066.02" y2="1663.24" stroke="#e0242c" stroke-width="2.05"/>
<rect x="2051.05" y="1199.2" width="19.43" height="362.9" fill="rgba(210,0,0,0.5)" stroke="#0a0a14" stroke-width="1.9"/>
<line x1="2052.05" y1="1384.15" x2="2069.48" y2="1384.15" stroke="#e0242c" stroke-width="2.05"/>
<line x1="2135.49" y1="1452.27" x2="2135.49" y2="1217.36" stroke="#e0242c" stroke-width="2.05" stroke-dasharray="24.8 15.7"/>
<line x1="2135.49" y1="1663.45" x2="2135.49" y2="1609.78" stroke="#e0242c" stroke-width="2.05" stroke-dasharray="24.8 15.7"/>
<line x1="2130.23" y1="1217.36" x2="2140.75" y2="1217.36" stroke="#e0242c" stroke-width="2.05"/>
<line x1="2130.23" y1="1663.45" x2="2140.75" y2="1663.45" stroke="#e0242c" stroke-width="2.05"/>
<rect x="2125.78" y="1452.27" width="19.43" height="157.5" fill="rgba(210,0,0,0.5)" stroke="#0a0a14" stroke-width="1.9"/>
<line x1="2126.78" y1="1555.07" x2="2144.21" y2="1555.07" stroke="#e0242c" stroke-width="2.05"/>
<line x1="2210.22" y1="1195.89" x2="2210.22" y2="688.91" stroke="#e0242c" stroke-width="2.05" stroke-dasharray="24.8 15.7"/>
<line x1="2210.22" y1="1685.66" x2="2210.22" y2="1605.85" stroke="#e0242c" stroke-width="2.05" stroke-dasharray="24.8 15.7"/>
<line x1="2204.97" y1="688.91" x2="2215.48" y2="688.91" stroke="#e0242c" stroke-width="2.05"/>
<line x1="2204.97" y1="1685.66" x2="2215.48" y2="1685.66" stroke="#e0242c" stroke-width="2.05"/>
<rect x="2200.51" y="1195.89" width="19.43" height="409.96" fill="rgba(210,0,0,0.5)" stroke="#0a0a14" stroke-width="1.9"/>
<line x1="2201.51" y1="1412.64" x2="2218.94" y2="1412.64" stroke="#e0242c" stroke-width="2.05"/>
<line x1="2284.95" y1="1095.98" x2="2284.95" y2="633.18" stroke="#e0242c" stroke-width="2.05" stroke-dasharray="24.8 15.7"/>
<line x1="2284.95" y1="1664.89" x2="2284.95" y2="1406.45" stroke="#e0242c" stroke-width="2.05" stroke-dasharray="24.8 15.7"/>
<line x1="2279.7" y1="633.18" x2="2290.21" y2="633.18" stroke="#e0242c" stroke-width="2.05"/>
<line x1="2279.7" y1="1664.89" x2="2290.21" y2="1664.89" stroke="#e0242c" stroke-width="2.05"/>
<rect x="2275.24" y="1095.98" width="19.43" height="310.46" fill="rgba(210,0,0,0.5)" stroke="#0a0a14" stroke-width="1.9"/>
<line x1="2276.24" y1="1274.75" x2="2293.67" y2="1274.75" stroke="#e0242c" stroke-width="2.05"/>
<rect x="1522.7" y="52.6" width="971.5" height="1651.1" fill="none" stroke="#262626" stroke-width="2"/>
<line x1="1597.43" y1="1703.7" x2="1597.43" y2="1686.5" stroke="#262626" stroke-width="2"/>
<line x1="1597.43" y1="52.6" x2="1597.43" y2="69.8" stroke="#262626" stroke-width="2"/>
<text class="t" x="1597.43" y="1764.4" text-anchor="middle">J</text>
<line x1="1672.16" y1="1703.7" x2="1672.16" y2="1686.5" stroke="#262626" stroke-width="2"/>
<line x1="1672.16" y1="52.6" x2="1672.16" y2="69.8" stroke="#262626" stroke-width="2"/>
<text class="t" x="1672.16" y="1764.4" text-anchor="middle">F</text>
<line x1="1746.89" y1="1703.7" x2="1746.89" y2="1686.5" stroke="#262626" stroke-width="2"/>
<line x1="1746.89" y1="52.6" x2="1746.89" y2="69.8" stroke="#262626" stroke-width="2"/>
<text class="t" x="1746.89" y="1764.4" text-anchor="middle">M</text>
<line x1="1821.62" y1="1703.7" x2="1821.62" y2="1686.5" stroke="#262626" stroke-width="2"/>
<line x1="1821.62" y1="52.6" x2="1821.62" y2="69.8" stroke="#262626" stroke-width="2"/>
<text class="t" x="1821.62" y="1764.4" text-anchor="middle">A</text>
<line x1="1896.35" y1="1703.7" x2="1896.35" y2="1686.5" stroke="#262626" stroke-width="2"/>
<line x1="1896.35" y1="52.6" x2="1896.35" y2="69.8" stroke="#262626" stroke-width="2"/>
<text class="t" x="1896.35" y="1764.4" text-anchor="middle">M</text>
<line x1="1971.08" y1="1703.7" x2="1971.08" y2="1686.5" stroke="#262626" stroke-width="2"/>
<line x1="1971.08" y1="52.6" x2="1971.08" y2="69.8" stroke="#262626" stroke-width="2"/>
<text class="t" x="1971.08" y="1764.4" text-anchor="middle">J</text>
<line x1="2045.82" y1="1703.7" x2="2045.82" y2="1686.5" stroke="#262626" stroke-width="2"/>
<line x1="2045.82" y1="52.6" x2="2045.82" y2="69.8" stroke="#262626" stroke-width="2"/>
<text class="t" x="2045.82" y="1764.4" text-anchor="middle">J</text>
<line x1="2120.55" y1="1703.7" x2="2120.55" y2="1686.5" stroke="#262626" stroke-width="2"/>
<line x1="2120.55" y1="52.6" x2="2120.55" y2="69.8" stroke="#262626" stroke-width="2"/>
<text class="t" x="2120.55" y="1764.4" text-anchor="middle">A</text>
<line x1="2195.28" y1="1703.7" x2="2195.28" y2="1686.5" stroke="#262626" stroke-width="2"/>
<line x1="2195.28" y1="52.6" x2="2195.28" y2="69.8" stroke="#262626" stroke-width="2"/>
<text class="t" x="2195.28" y="1764.4" text-anchor="middle">S</text>
<line x1="2270.01" y1="1703.7" x2="2270.01" y2="1686.5" stroke="#262626" stroke-width="2"/>
<line x1="2270.01" y1="52.6" x2="2270.01" y2="69.8" stroke="#262626" stroke-width="2"/>
<text class="t" x="2270.01" y="1764.4" text-anchor="middle">O</text>
<line x1="2344.74" y1="1703.7" x2="2344.74" y2="1686.5" stroke="#262626" stroke-width="2"/>
<line x1="2344.74" y1="52.6" x2="2344.74" y2="69.8" stroke="#262626" stroke-width="2"/>
<text class="t" x="2344.74" y="1764.4" text-anchor="middle">N</text>
<line x1="2419.47" y1="1703.7" x2="2419.47" y2="1686.5" stroke="#262626" stroke-width="2"/>
<line x1="2419.47" y1="52.6" x2="2419.47" y2="69.8" stroke="#262626" stroke-width="2"/>
<text class="t" x="2419.47" y="1764.4" text-anchor="middle">D</text>
<text class="t" x="1504.7" y="1721.7" text-anchor="end">0</text>
<line x1="1522.7" y1="1497.28" x2="1539.9" y2="1497.28" stroke="#262626" stroke-width="2"/>
<line x1="2494.2" y1="1497.28" x2="2477" y2="1497.28" stroke="#262626" stroke-width="2"/>
<text class="t" x="1504.7" y="1515.28" text-anchor="end">0.5</text>
<line x1="1522.7" y1="1290.85" x2="1539.9" y2="1290.85" stroke="#262626" stroke-width="2"/>
<line x1="2494.2" y1="1290.85" x2="2477" y2="1290.85" stroke="#262626" stroke-width="2"/>
<text class="t" x="1504.7" y="1308.85" text-anchor="end">1</text>
<line x1="1522.7" y1="1084.42" x2="1539.9" y2="1084.42" stroke="#262626" stroke-width="2"/>
<line x1="2494.2" y1="1084.42" x2="2477" y2="1084.42" stroke="#262626" stroke-width="2"/>
<text class="t" x="1504.7" y="1102.42" text-anchor="end">1.5</text>
<line x1="1522.7" y1="878" x2="1539.9" y2="878" stroke="#262626" stroke-width="2"/>
<line x1="2494.2" y1="878" x2="2477" y2="878" stroke="#262626" stroke-width="2"/>
<text class="t" x="1504.7" y="896" text-anchor="end">2</text>
<line x1="1522.7" y1="671.58" x2="1539.9" y2="671.58" stroke="#262626" stroke-width="2"/>
<line x1="2494.2" y1="671.58" x2="2477" y2="671.58" stroke="#262626" stroke-width="2"/>
<text class="t" x="1504.7" y="689.58" text-anchor="end">2.5</text>
<line x1="1522.7" y1="465.15" x2="1539.9" y2="465.15" stroke="#262626" stroke-width="2"/>
<line x1="2494.2" y1="465.15" x2="2477" y2="465.15" stroke="#262626" stroke-width="2"/>
<text class="t" x="1504.7" y="483.15" text-anchor="end">3</text>
<line x1="1522.7" y1="258.72" x2="1539.9" y2="258.72" stroke="#262626" stroke-width="2"/>
<line x1="2494.2" y1="258.72" x2="2477" y2="258.72" stroke="#262626" stroke-width="2"/>
<text class="t" x="1504.7" y="276.72" text-anchor="end">3.5</text>
<text class="t" x="1504.7" y="70.6" text-anchor="end">4</text>
<text class="tt" transform="translate(2005.75,40.2) scale(1,1.04)" text-anchor="middle">ARK</text>
<text class="pl" x="1369.8" y="37.5">B</text>
<text class="yl" transform="translate(1417.5,880) rotate(-90)" text-anchor="middle">sig. wave height [m]</text>
<rect x="1973" y="80.5" width="493.9" height="111.8" fill="#fff" stroke="#262626" stroke-width="2"/>
<line x1="1983.1" y1="110.5" x2="2084.1" y2="110.5" stroke="#2a24d8" stroke-width="2.05"/>
<line x1="1983.1" y1="161.5" x2="2084.1" y2="161.5" stroke="#e0242c" stroke-width="2.05"/>
<text class="lg" x="2091" y="125.4">before 1 March 2020</text>
<text class="lg" x="2091" y="176.2">after 1 March 2020</text>
</g>
</svg></body></html>
